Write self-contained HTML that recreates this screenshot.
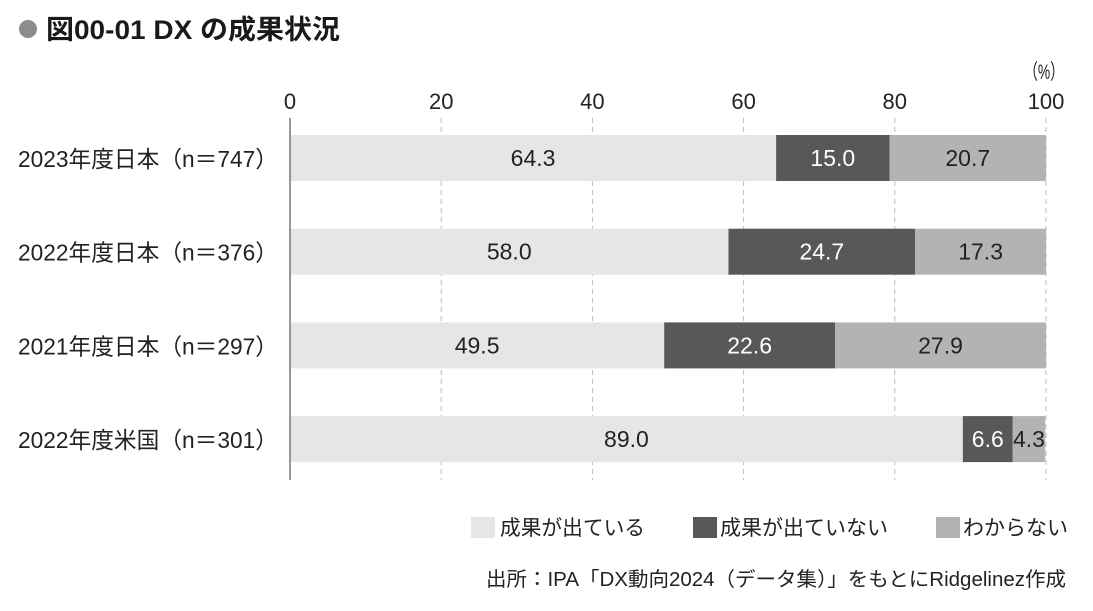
<!DOCTYPE html>
<html><head><meta charset="utf-8"><style>
body{margin:0;background:#fff;}
svg{display:block;font-family:"Liberation Sans","Noto Sans CJK JP",sans-serif;}
</style></head><body>
<svg id="chart" width="1093" height="611" viewBox="0 0 1093 611">
<circle cx="28" cy="29" r="9" fill="#8c8c8c"/>
<text x="46" y="39" font-size="27" font-weight="bold" fill="#1a1a1a" textLength="294" lengthAdjust="spacingAndGlyphs">図00-01 DX の成果状況</text>
<text x="1064" y="79" font-size="21" text-anchor="end" fill="#222" textLength="40" lengthAdjust="spacingAndGlyphs">（%）</text>
<g id="grid"></g>
<g id="bars"></g>
<line x1="290" y1="118" x2="290" y2="480" stroke="#777" stroke-width="1.5"/>
<g>
<rect x="471" y="517" width="24" height="21" fill="#e6e6e6"/>
<text x="500" y="535" font-size="21" fill="#222" textLength="145" lengthAdjust="spacingAndGlyphs">成果が出ている</text>
<rect x="693" y="517" width="24" height="21" fill="#595757"/>
<text x="720" y="535" font-size="21" fill="#222" textLength="168" lengthAdjust="spacingAndGlyphs">成果が出ていない</text>
<rect x="936" y="517" width="24" height="21" fill="#b3b3b3"/>
<text x="963" y="535" font-size="21" fill="#222" textLength="105" lengthAdjust="spacingAndGlyphs">わからない</text>
</g>
<text x="486" y="586" font-size="20" fill="#222" textLength="580" lengthAdjust="spacingAndGlyphs">出所：IPA「DX動向2024（データ集）」をもとにRidgelinez作成</text>
</svg>
<script>
const categories=["2023年度日本（n＝747）","2022年度日本（n＝376）","2021年度日本（n＝297）","2022年度米国（n＝301）"];
const achieved=[64.3,58.0,49.5,89.0];
const notAchieved=[15.0,24.7,22.6,6.6];
const unknown=[20.7,17.3,27.9,4.3];
const ticks=[0,20,40,60,80,100];
const NS="http://www.w3.org/2000/svg";
const x=v=>290+v*7.56;
const yTop=i=>135+i*93.7;
const bh=46;
function mk(tag,attrs,parent){const e=document.createElementNS(NS,tag);for(const k in attrs)e.setAttribute(k,attrs[k]);parent.appendChild(e);return e;}
const grid=document.getElementById('grid'),bars=document.getElementById('bars');
ticks.forEach(t=>{
  if(t>0){const l=mk('line',{x1:x(t),x2:x(t),y1:118,y2:480,stroke:'#bbb','stroke-dasharray':'5,4'},grid);
  
  }
  const tx=mk('text',{x:x(t),y:109,'font-size':22,'text-anchor':'middle',fill:'#222'},grid);
  tx.textContent=t;
  
  
});
const series=[[achieved,'#e6e6e6','#222','achieved'],[notAchieved,'#595757','#fff','not-achieved'],[unknown,'#b3b3b3','#222','unknown']];
categories.forEach((c,i)=>{
  const y=yTop(i);
  const lab=mk('text',{x:18,y:y+bh/2+9,'font-size':23,fill:'#222',textLength:260,lengthAdjust:'spacingAndGlyphs'},bars);
  lab.textContent=c;
  
  
  let acc=0;
  series.forEach(([arr,fill,tc,name])=>{
    const v=arr[i];
    const r=mk('rect',{x:x(acc),y:y,width:x(acc+v)-x(acc),height:bh,fill:fill},bars);
    
    
    const t=mk('text',{x:(x(acc)+x(acc+v))/2,y:y+bh/2+8,'font-size':23,'text-anchor':'middle',fill:tc},bars);
    t.textContent=v.toFixed(1);
    
    
    acc+=v;
  });
});
</script>
</body></html>
